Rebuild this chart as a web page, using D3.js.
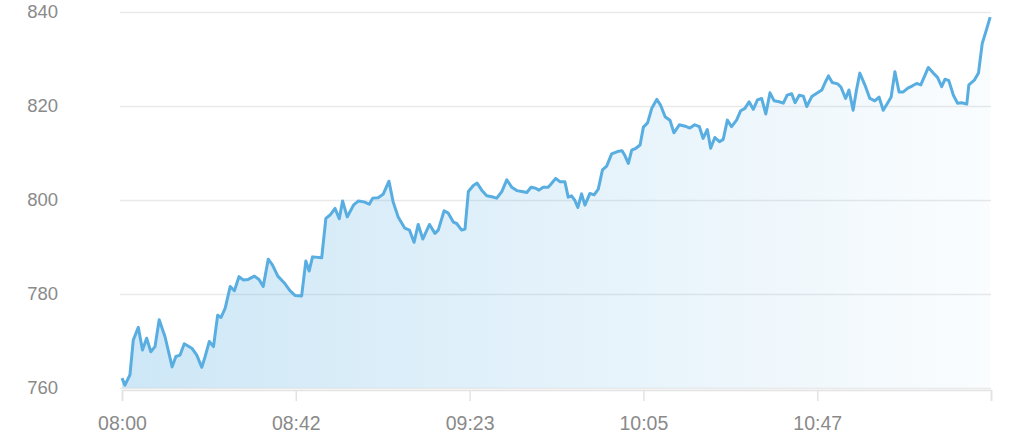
<!DOCTYPE html>
<html>
<head>
<meta charset="utf-8">
<script src="https://cdn.jsdelivr.net/npm/d3@7"></script>
<style>
  html, body { margin: 0; padding: 0; background: #fff; }
  .vis { width: 1024px; height: 446px; }
  .vis text { font-family: "Liberation Sans", Arial, sans-serif; fill: #8a8a8a; }
</style>
</head>
<body>
<div class="vis"></div>
<script>
// minutes after 08:00 and the price read at that moment
var minutes = [
  0, 0.7, 1.9, 2.7, 3.9, 4.9, 5.9, 6.9, 7.9, 8.9, 10.3, 12.0, 12.9, 13.9, 14.9, 16.8, 17.9, 19.1, 19.9, 20.9,
  21.9, 22.9, 23.7, 24.7, 25.9, 26.9, 28.0, 29.0, 30.2, 31.7, 32.8, 33.8, 35.0, 36.0, 37.3, 38.8, 40.2, 41.4, 43.0, 44.0,
  44.8, 45.6, 47.8, 48.8, 49.8, 51.0, 52.0, 52.8, 53.9, 55.4, 56.6, 57.9, 59.2, 60.0, 61.3, 62.5, 63.9, 64.9, 66.1, 67.7,
  68.8, 69.9, 70.9, 72.0, 73.6, 74.9, 75.7, 77.1, 78.1, 79.3, 80.1, 81.3, 82.1, 82.9, 84.1, 85.0, 86.1, 87.3, 88.5, 89.7,
  90.9, 92.1, 93.3, 94.5, 95.7, 96.9, 97.9, 99.0, 99.8, 100.8, 102.0, 102.7, 103.8, 104.8, 106.0, 106.8, 107.6, 108.4, 109.1, 110.0,
  110.8, 112.0, 113.0, 114.0, 115.0, 116.0, 117.2, 118.6, 119.7, 120.4, 121.2, 122.0, 123.0, 124.0, 124.8, 125.8, 126.8, 128.0, 128.9, 130.0,
  131.2, 132.1, 133.4, 134.8, 135.9, 137.1, 138.2, 139.1, 140.1, 140.9, 141.9, 143.0, 143.9, 144.9, 145.9, 147.1, 148.1, 149.1, 150.1, 151.1,
  152.1, 153.1, 154.1, 155.1, 156.1, 157.3, 158.3, 159.2, 160.3, 161.1, 162.1, 163.1, 163.9, 165.1, 166.3, 167.5, 168.3, 169.1, 170.0, 171.3,
  172.1, 173.2, 174.0, 175.0, 175.8, 176.6, 177.8, 179.0, 180.2, 181.2, 182.2, 183.3, 184.1, 185.0, 186.0, 187.0, 188.1, 189.2, 190.2, 191.2,
  193.0, 194.2, 195.2, 196.2, 197.0, 197.9, 199.0, 200.0, 201.0, 202.2, 202.7, 204.0, 205.0, 205.9, 206.9, 207.8
];
var prices = [
  762.1, 760.6, 762.8, 770.2, 772.9, 768.1, 770.6, 767.7, 768.8, 774.5, 770.9, 764.5, 766.7, 767.0, 769.4, 768.4, 767.0, 764.4, 766.7, 769.9,
  768.8, 775.5, 775.0, 777.0, 781.6, 780.7, 783.7, 783.0, 783.1, 783.8, 783.1, 781.6, 787.4, 786.2, 783.8, 782.4, 780.7, 779.7, 779.6, 787.0,
  784.9, 787.9, 787.7, 796.1, 796.8, 798.2, 796.0, 799.8, 796.4, 798.9, 799.8, 799.6, 799.1, 800.4, 800.5, 801.2, 804.0, 799.6, 796.4, 794.0,
  793.6, 791.0, 794.8, 791.7, 794.8, 792.9, 793.6, 797.7, 797.2, 795.3, 795.0, 793.6, 793.8, 801.8, 803.1, 803.6, 802.1, 800.9, 800.7, 800.4,
  801.8, 804.3, 802.7, 802.0, 801.8, 801.6, 802.7, 802.5, 802.1, 802.7, 802.7, 803.4, 804.6, 803.9, 803.9, 800.6, 800.9, 799.9, 798.4, 801.3,
  798.9, 801.4, 801.1, 802.3, 806.4, 807.2, 809.8, 810.3, 810.5, 809.4, 807.8, 810.6, 811.0, 811.7, 815.5, 816.4, 819.5, 821.4, 820.2, 817.7,
  816.9, 814.3, 816.0, 815.7, 815.3, 816.0, 815.6, 813.1, 815.0, 811.0, 813.3, 812.4, 812.9, 817.0, 815.6, 817.0, 819.0, 819.5, 820.9, 819.3,
  821.3, 821.6, 818.3, 822.8, 821.1, 820.9, 820.6, 822.3, 822.6, 820.7, 822.3, 822.1, 819.9, 822.0, 822.7, 823.4, 825.0, 826.4, 825.0, 824.7,
  824.0, 821.6, 823.4, 819.1, 823.4, 827.0, 824.5, 821.6, 821.1, 821.9, 819.1, 820.7, 821.9, 827.3, 823.0, 823.0, 823.8, 824.3, 824.8, 824.5,
  828.2, 827.0, 826.1, 824.1, 825.7, 825.4, 822.3, 820.6, 820.7, 820.4, 824.5, 825.5, 827.0, 833.3, 836.2, 838.9
];
var timeTicks = [0, 41.6, 83.2, 124.8, 166.4, 208];
var timeLabels = ["08:00", "08:42", "09:23", "10:05", "10:47", ""];
var priceTicks = [760, 780, 800, 820, 840];

var chart = {

  hold: {},

  setUp: function(){
    chart.hold.width = 1024;
    chart.hold.height = 446;
    chart.hold.left = 122;
    chart.hold.right = 991;
    chart.hold.top = 12;
    chart.hold.bottom = 388;

    chart.hold.x = d3.scaleLinear()
      .domain([0, 208])
      .range([chart.hold.left, chart.hold.right]);
    chart.hold.y = d3.scaleLinear()
      .domain([760, 840])
      .range([chart.hold.bottom, chart.hold.top]);

    chart.hold.svg = d3.select(".vis")
      .append("svg")
        .attr("width", chart.hold.width)
        .attr("height", chart.hold.height);

    chart.drawGrid();
    chart.drawArea();
    chart.drawAxes();
  },

  drawGrid: function(){
    var svg = chart.hold.svg;
    var yAxis = d3.axisLeft(chart.hold.y)
      .tickValues(priceTicks)
      .tickSize(-(chart.hold.right - chart.hold.left + 2))
      .tickPadding(62)
      .tickFormat(d3.format("d"));

    var g = svg.append("g")
      .attr("class", "y-axis")
      .attr("transform", "translate(" + (chart.hold.left - 2) + ",0)")
      .call(yAxis);
    g.select(".domain").remove();
    g.selectAll(".tick line")
      .attr("stroke", "#e9e9e9")
      .attr("stroke-width", 1.5);
    g.selectAll(".tick text")
      .attr("font-size", "18.5px")
      .attr("fill", "#888");
  },

  drawArea: function(){
    var svg = chart.hold.svg;
    var x = chart.hold.x, y = chart.hold.y;
    var data = minutes.map(function(m, i){ return {m: m, v: prices[i]}; });

    var grad = svg.append("defs")
      .append("linearGradient")
        .attr("id", "fade")
        .attr("x1", "0%").attr("x2", "100%")
        .attr("y1", "0%").attr("y2", "0%");
    grad.append("stop").attr("offset", "0%").attr("stop-color", "#5aafe2").attr("stop-opacity", 0.3);
    grad.append("stop").attr("offset", "100%").attr("stop-color", "#5aafe2").attr("stop-opacity", 0.03);

    var area = d3.area()
      .x(function(d){ return x(d.m); })
      .y0(y(760))
      .y1(function(d){ return y(d.v); });

    var line = d3.line()
      .x(function(d){ return x(d.m); })
      .y(function(d){ return y(d.v); });

    svg.append("path")
      .datum(data)
      .attr("fill", "url(#fade)")
      .attr("d", area);

    svg.append("path")
      .datum(data)
      .attr("fill", "none")
      .attr("stroke", "#58ade1")
      .attr("stroke-width", 3)
      .attr("stroke-linejoin", "round")
      .attr("d", line);
  },

  drawAxes: function(){
    var svg = chart.hold.svg;
    var xAxis = d3.axisBottom(chart.hold.x)
      .tickValues(timeTicks)
      .tickSize(11)
      .tickPadding(15)
      .tickFormat(function(d, i){ return timeLabels[i]; });

    var g = svg.append("g")
      .attr("class", "x-axis")
      .attr("transform", "translate(0," + (chart.hold.bottom + 2) + ")")
      .call(xAxis);
    g.select(".domain")
      .attr("stroke", "#e3e3e3")
      .attr("stroke-width", 1.5);
    g.selectAll(".tick line")
      .attr("stroke", "#e3e3e3")
      .attr("stroke-width", 1.5);
    g.selectAll(".tick text")
      .attr("font-size", "19.5px")
      .attr("fill", "#888");
  }
};

chart.setUp();
</script>
</body>
</html>
